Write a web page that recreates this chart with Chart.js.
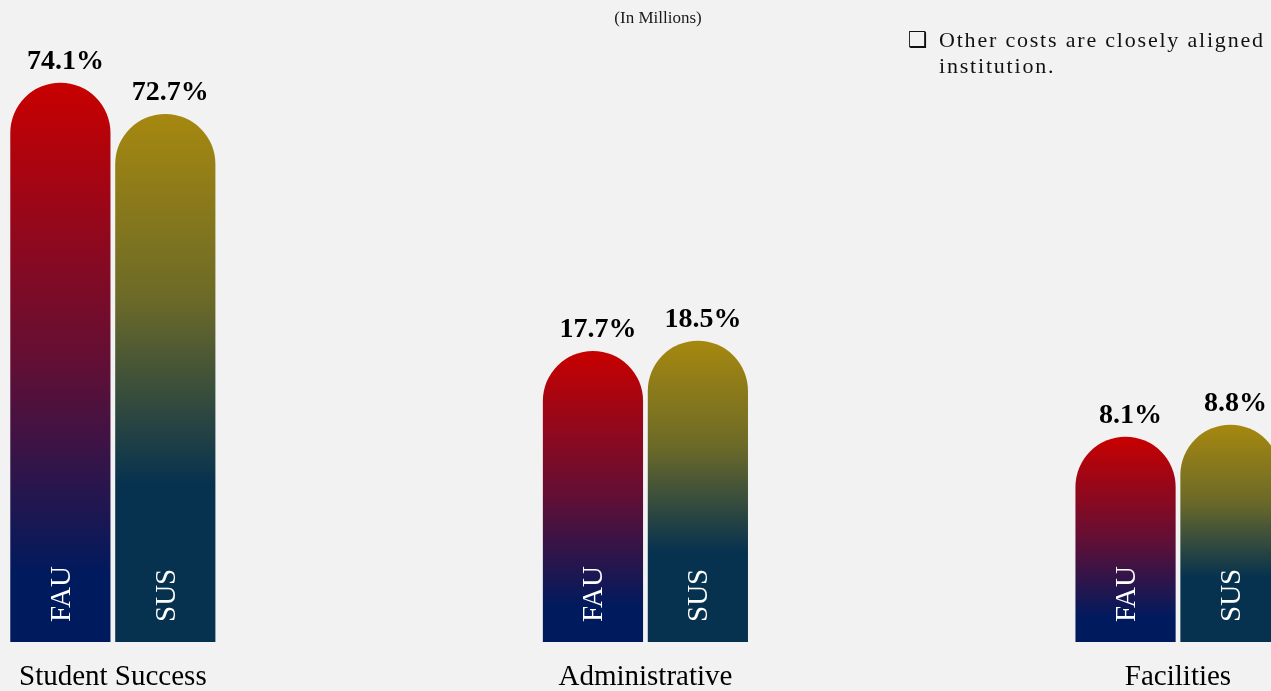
<!DOCTYPE html>
<html>
<head>
<meta charset="utf-8">
<title>Cost distribution FAU vs SUS</title>
<script src="https://cdn.jsdelivr.net/npm/chart.js@4.4.1/dist/chart.umd.min.js"></script>
<style>
  html, body { margin: 0; padding: 0; background: #f2f2f2; overflow: hidden; }
  #wrap { width: 1271px; height: 691px; }
</style>
</head>
<body>
<div id="wrap"><canvas id="costChart" width="1271" height="691"></canvas></div>
<script>
const categories = ['Student Success', 'Administrative', 'Facilities'];
const seriesNames = ['FAU', 'SUS'];
// bar lengths (the slide shows no axis, so 0-100 of its height)
const fauValues = [93.2, 48.5, 34.2];
const susValues = [88.0, 50.2, 36.2];
// share labels printed over each bar
const fauShares = ['74.1%', '17.7%', '8.1%'];
const susShares = ['72.7%', '18.5%', '8.8%'];
const chartTitle = '(In Millions)';
const noteLines = ['Other costs are closely aligned', 'institution.'];

const serif = "'Liberation Serif', 'Times New Roman', serif";
const shareLabels = [fauShares, susShares];

// each bar gets its own top-to-bottom gradient
function barGradient(stops) {
  return (context) => {
    const chart = context.chart;
    if (!chart.chartArea || context.type !== 'data') return stops[stops.length - 1][1];
    const y = chart.scales.y;
    const top = y.getPixelForValue(context.raw);
    const bottom = y.getPixelForValue(0);
    const g = chart.ctx.createLinearGradient(0, top, 0, bottom);
    stops.forEach(s => g.addColorStop(s[0], s[1]));
    return g;
  };
}

const slideText = {
  id: 'slideText',
  beforeDraw(chart) {
    const c = chart.ctx;
    c.save();
    c.fillStyle = '#f2f2f2';
    c.fillRect(0, 0, chart.width, chart.height);
    c.restore();
  },
  afterDatasetsDraw(chart) {
    const c = chart.ctx;
    const base = chart.scales.y.getPixelForValue(0);
    chart.data.datasets.forEach((ds, i) => {
      chart.getDatasetMeta(i).data.forEach((bar, j) => {
        c.save();
        c.font = 'bold 28px ' + serif;
        c.fillStyle = '#000';
        c.textAlign = 'center';
        c.textBaseline = 'alphabetic';
        c.fillText(shareLabels[i][j], bar.x + 5, bar.y - 14);

        // series name written upward inside the bar
        c.translate(bar.x + 9.5, base - 20);
        c.rotate(-Math.PI / 2);
        c.font = '29px ' + serif;
        c.fillStyle = '#fff';
        c.textAlign = 'left';
        c.fillText(ds.label, 0, 0);
        c.restore();
      });
    });
  },
  afterDraw(chart) {
    const c = chart.ctx;
    c.save();
    c.fillStyle = '#1a1a1a';
    c.textAlign = 'center';
    c.textBaseline = 'alphabetic';
    c.font = '17px ' + serif;
    c.fillText(chartTitle, 658, 23);

    c.textAlign = 'left';
    c.fillStyle = '#111';
    c.font = "22px 'DejaVu Sans'";
    c.fillText('\u2751', 908, 47);
    c.font = '22px ' + serif;
    c.letterSpacing = '1.8px';
    c.fillText(noteLines[0], 939, 47);
    c.fillText(noteLines[1], 939, 73);
    c.restore();
  }
};

new Chart(document.getElementById('costChart'), {
  type: 'bar',
  data: {
    labels: categories,
    datasets: [
      {
        label: seriesNames[0],
        data: fauValues,
        clip: false,
        backgroundColor: barGradient([[0, '#c80000'], [0.5, '#620f35'], [0.88, '#001a5e'], [1, '#001a5e']])
      },
      {
        label: seriesNames[1],
        data: susValues,
        clip: false,
        backgroundColor: barGradient([[0, '#a6880f'], [0.35, '#6c6a28'], [0.7, '#07324f'], [1, '#07324f']])
      }
    ]
  },
  options: {
    responsive: false,
    animation: false,
    devicePixelRatio: 1,
    categoryPercentage: 0.394,
    barPercentage: 0.955,
    borderRadius: 50,
    borderSkipped: 'start',
    layout: {
      padding: { left: 112, right: 93, top: 42, bottom: 0 }
    },
    plugins: {
      legend: { display: false },
      tooltip: { enabled: false }
    },
    scales: {
      x: {
        offset: false,
        grid: { display: false, drawTicks: false },
        border: { display: false },
        ticks: {
          color: '#000',
          padding: 19,
          font: { family: serif, size: 29, lineHeight: 1.1 }
        },
        afterFit(scale) {
          scale.height = 49;
        }
      },
      y: {
        display: false,
        min: 0,
        max: 100
      }
    }
  },
  plugins: [slideText]
});
</script>
</body>
</html>
